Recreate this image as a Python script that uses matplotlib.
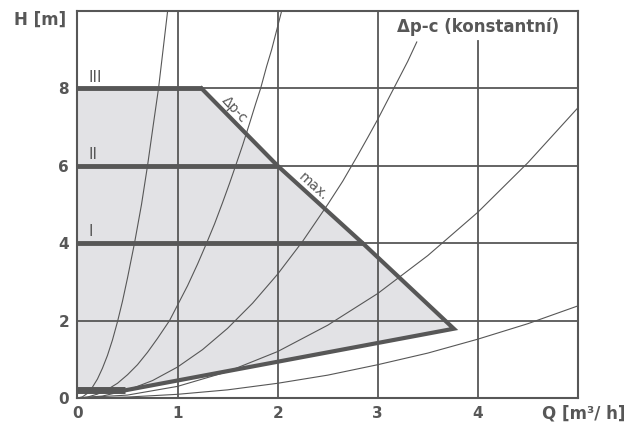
import matplotlib
matplotlib.use("Agg")
import matplotlib.pyplot as plt

# system curves H(Q)
curve_a_q = [0, 0.05, 0.1, 0.15, 0.2, 0.25, 0.3, 0.35, 0.4, 0.45, 0.5, 0.57, 0.64, 0.7, 0.76, 0.81, 0.86, 0.91]
curve_a_h = [0, 0.03, 0.12, 0.28, 0.49, 0.77, 1.1, 1.5, 1.97, 2.5, 3.1, 4.0, 5.0, 6.0, 7.1, 8.0, 9.1, 10.2]
curve_b_q = [0, 0.1, 0.2, 0.3, 0.4, 0.5, 0.6, 0.7, 0.8, 0.92, 1.0, 1.1, 1.2, 1.29, 1.37, 1.45, 1.52, 1.58, 1.65, 1.72, 1.78, 1.83, 1.89, 1.94, 1.99, 2.04]
curve_b_h = [0, 0.024, 0.1, 0.22, 0.38, 0.6, 0.86, 1.18, 1.54, 2.0, 2.4, 2.9, 3.46, 4.0, 4.5, 5.05, 5.55, 6.0, 6.53, 7.1, 7.6, 8.0, 8.57, 9.0, 9.5, 10.0]
curve_c_q = [0, 0.25, 0.5, 0.75, 1, 1.25, 1.5, 1.75, 2, 2.25, 2.5, 2.65, 2.8, 2.9, 3.0, 3.08, 3.16, 3.23, 3.3, 3.39]
curve_c_h = [0, 0.05, 0.2, 0.45, 0.8, 1.25, 1.8, 2.45, 3.2, 4.05, 5.0, 5.6, 6.27, 6.73, 7.2, 7.6, 8.0, 8.35, 8.7, 9.2]
curve_d_q = [0, 0.5, 1, 1.5, 2, 2.5, 3, 3.5, 4, 4.5, 5]
curve_d_h = [0, 0.075, 0.3, 0.68, 1.2, 1.88, 2.7, 3.68, 4.8, 6.08, 7.5]
curve_e_q = [0, 0.5, 1, 1.5, 2, 2.5, 3, 3.5, 4, 4.5, 5]
curve_e_h = [0, 0.024, 0.095, 0.21, 0.38, 0.59, 0.86, 1.16, 1.52, 1.92, 2.38]

# operating field boundary
field_q = [0, 0.48, 3.76, 2.85, 2.0, 1.24, 0]
field_h = [0.2, 0.2, 1.79, 4.0, 6.0, 8.0, 8.0]
max_q = [1.24, 2.0, 2.85, 3.76, 0.48]
max_h = [8.0, 6.0, 4.0, 1.79, 0.2]
levels = ["I", "II", "III"]
level_h = [4, 6, 8]
level_end = [2.85, 2.0, 1.24]
min_q = [0, 0.48]
min_h = [0.2, 0.2]

xticks = [0, 1, 2, 3, 4]
yticks = [0, 2, 4, 6, 8]

gc = "#575757"

fig = plt.figure(figsize=(6.4, 4.29), dpi=100)
ax = fig.add_axes([0.121, 0.0723, 0.782, 0.902])
ax.set_xlim(0, 5)
ax.set_ylim(0, 10)

ax.fill(field_q, field_h, color="#e2e2e5", lw=0, zorder=1)

for x in [1, 2, 3]:
    ax.axvline(x, color=gc, lw=1.3, zorder=2)
ax.axvline(4, ymax=0.922, color=gc, lw=1.3, zorder=2)
for y in [2, 4, 6, 8]:
    ax.axhline(y, color=gc, lw=1.3, zorder=2)

for q, h in [(curve_a_q, curve_a_h), (curve_b_q, curve_b_h), (curve_c_q, curve_c_h),
             (curve_d_q, curve_d_h), (curve_e_q, curve_e_h)]:
    ax.plot(q, h, color=gc, lw=0.8, zorder=3)

ax.plot(max_q, max_h, color=gc, lw=3, solid_joinstyle="miter", zorder=4)
ax.plot(min_q, min_h, color=gc, lw=5, solid_capstyle="butt", zorder=4)
for name, h, e in zip(levels, level_h, level_end):
    ax.plot([0, e], [h, h], color=gc, lw=3.5, solid_capstyle="butt", zorder=4)
    ax.text(0.11, h + 0.1, name, color=gc, fontsize=11, ha="left", va="bottom")

ax.text(1.57, 7.45, "Δp-c", color=gc, fontsize=10, rotation=-47,
        ha="center", va="center")
ax.text(2.36, 5.45, "max.", color=gc, fontsize=10, rotation=-42,
        ha="center", va="center")
ax.text(4.0, 9.6, "Δp-c (konstantní)", color=gc, fontsize=12, fontweight="bold",
        ha="center", va="center")

for s in ax.spines.values():
    s.set_color(gc)
    s.set_linewidth(1.5)
ax.set_xticks(xticks)
ax.set_yticks(yticks)
ax.tick_params(length=0, labelsize=11, labelcolor=gc, pad=6)
for t in ax.get_xticklabels() + ax.get_yticklabels():
    t.set_fontweight("bold")

fig.text(0.062, 0.953, "H [m]", color=gc, fontsize=12, fontweight="bold",
         ha="center", va="center")
fig.text(0.912, 0.035, "Q [m³/ h]", color=gc, fontsize=12, fontweight="bold",
         ha="center", va="center")

fig.savefig("out.png", dpi=100)
